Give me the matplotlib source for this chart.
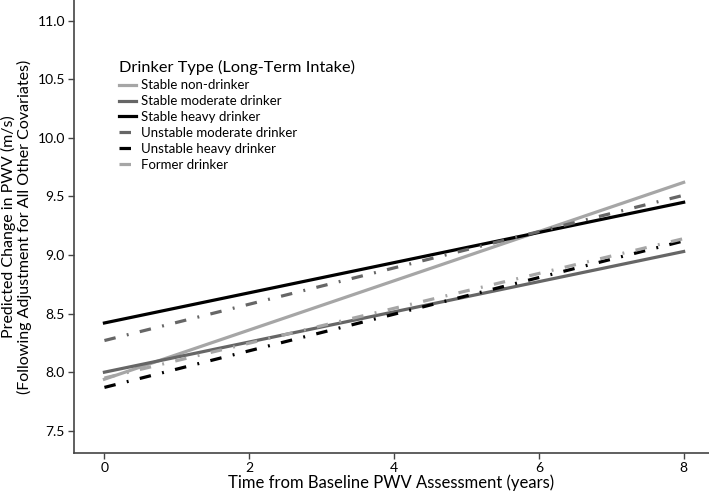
import matplotlib.pyplot as plt

plt.rcParams['font.family'] = ['Lato', 'DejaVu Sans']

# time points (years) and predicted PWV at start/end of follow-up
years = [0, 8]
groups = ['Stable non-drinker', 'Stable moderate drinker', 'Stable heavy drinker',
          'Unstable moderate drinker', 'Unstable heavy drinker', 'Former drinker']
stable_non = [7.94, 9.62]
stable_moderate = [8.00, 9.03]
stable_heavy = [8.42, 9.45]
unstable_moderate = [8.27, 9.51]
unstable_heavy = [7.87, 9.12]
former = [7.95, 9.14]

series = [stable_non, stable_moderate, stable_heavy,
          unstable_moderate, unstable_heavy, former]
colors = ['#a6a6a6', '#666666', '#000000', '#666666', '#000000', '#a6a6a6']
dashdot = (0, (3.6, 3.6, 0.6, 3.6))
styles = ['-', '-', '-', dashdot, dashdot, dashdot]

fig = plt.figure(figsize=(7.09, 4.93), dpi=100)
ax = fig.add_axes([0.1044, 0.0811, 0.8956, 0.919])

for name, vals, c, ls in zip(groups, series, colors, styles):
    ax.plot(years, vals, color=c, linestyle=ls, linewidth=2.3, label=name)

ax.set_xlim(-0.42, 8.35)
ax.set_ylim(7.31, 11.177)
ax.set_xticks([0, 2, 4, 6, 8])
ax.set_yticks([7.5, 8.0, 8.5, 9.0, 9.5, 10.0, 10.5, 11.0])
ax.set_yticklabels(['7.5', '8.0', '8.5', '9.0', '9.5', '10.0', '10.5', '11.0'])
ax.tick_params(labelsize=10, length=4, color='#444444', width=1, pad=2.5)

for s in ['top', 'right']:
    ax.spines[s].set_visible(False)
for s in ['left', 'bottom']:
    ax.spines[s].set_color('#444444')
    ax.spines[s].set_linewidth(1.2)

ax.set_xlabel('Time from Baseline PWV Assessment (years)', fontsize=12, labelpad=0)
ax.set_ylabel('Predicted Change in PWV (m/s)\n(Following Adjustment for All Other Covariates)',
              fontsize=11.5, labelpad=4, linespacing=1.05)

leg = ax.legend(title='Drinker Type (Long-Term Intake)', loc='upper left',
                bbox_to_anchor=(0.168, 0.878), bbox_transform=fig.transFigure,
                frameon=False, fontsize=9.5, title_fontsize=11.8,
                handlelength=1.3, handletextpad=0.35, labelspacing=0.3,
                borderpad=0, borderaxespad=0)
leg._legend_box.align = 'left'

fig.savefig('out.png', dpi=100)
